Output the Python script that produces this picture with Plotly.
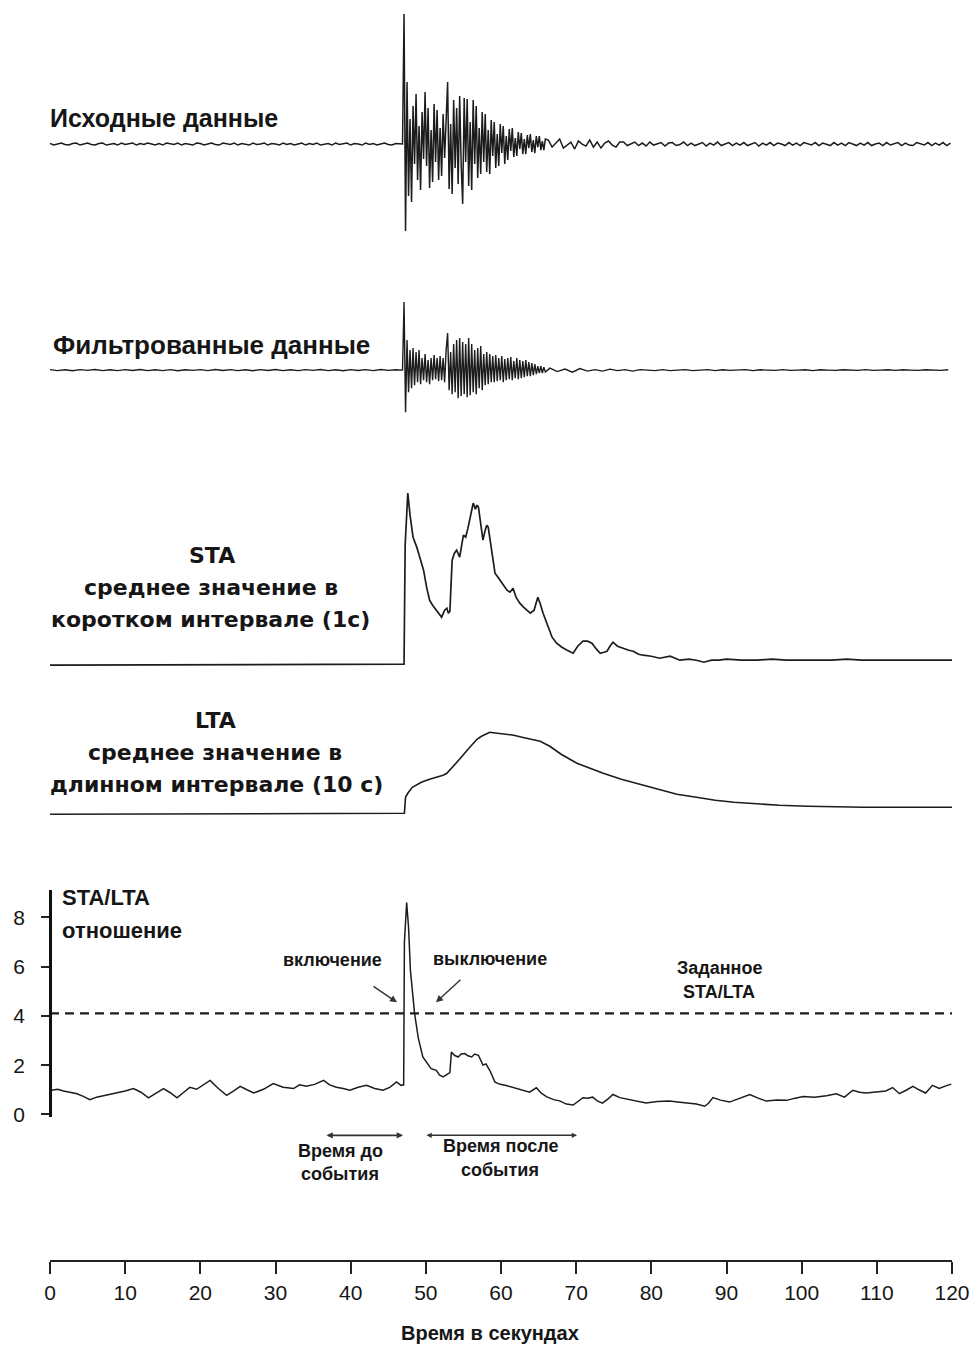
import numpy as np
import plotly.graph_objects as go

# ---------------- data ----------------
# Raw seismogram (amplitude in arbitrary units, 0 = baseline)
raw_pre = [0.5, -1, 0, 1, -0.5, -1, 0.5, 1, -1, 0,
           1, -0.5, -1, 0.5, 1, -1, 0, 0.5, -1, 1,
           -0.5, 0, 1, -1, 0.5, -0.5, 1, 0, -1, 0.5,
           -1, 1, 0, -0.5, 1, -1, 0.5, 0, -1, 1,
           0.5, -1, 0, 1, -0.5, -1, 1, 0, -0.5, 1,
           -1, 0.5, 0, -1, 1, -0.5, 0, 1, -1, 0.5,
           0, -1, 1, -0.5, 0.5, -1, 0, 1, -1, 0.5,
           -0.5, 1, -1, 0, 0.5, -1, 1, -0.5, 0, 1,
           -1, 0.5, 0, -1, 1, -0.5, 0.5, -1, 0, 1,
           -0.5, -1, 0.5, 0]
raw_event = [0, 130, -87, 62, -52,
             25, -58, 38, -20, 50,
             -36, 18, -46, 32, -15,
             52, -22, 36, -44, 14,
             -38, 40, -18, 34, -36,
             16, -32, 30, -14, 24,
             62, -45, 20, -50, 44,
             -24, 36, -40, 48, -20,
             -60, 46, -18, 45, -42,
             22, -46, 44, -20, 38,
             -34, 16, -30, 32, -18,
             30, -28, 14, -30, 24,
             -12, 22, -24, 10, -22,
             20, -9, 18, -20, 8,
             -16, 15, -7, 16, -13,
             6, -12, 12, -5, 11,
             -10, 5, -10, 9, -4,
             10, -8, 4, -9, 8,
             -3, 8, -6, 3, -6,
             5]
raw_tail = [4, -3, 1, 5, -4, -1, 2, -5, 3, 0,
            -2, 4, -3, 2, -4, 1, 3, -1, -3, 2,
            2, -1.5, 0, 2, -1.5, 1, -2, 2, -1, 0,
            1.5, -2, 1, 1.5, -1.5, -0.5, 2, -1.5, 1, -1.5,
            0, 1.5, -2, 1, -1, 2, -1.5, 0, 1.5, -1.5,
            1, -1, 1.5, -1.5, 0, 1.5, -2, 1, -1, 1.5,
            -1.5, 1, 0, -1.5, 1.5, -1, 1, -1.5, 1.5, 0,
            -1, 1.5, -1.5, 1, 0, -1.5, 1.5, -1, 1, -1.5,
            1.5, 0, -1.5, 1, -1, 1.5, -1.5, 0, 1, -1.5,
            1.5, -1, 0, 1.5, -1.5, 1, -1, -1.5, 1.5, 0,
            -1, 1.5, -1.5, 1, -1, 1.5, -1.5, 1]

# Filtered seismogram
filt_pre = [0.5, -0.5, 0.3, -0.6, 0.5, -0.3, 0.6, -0.5, 0.4, -0.5,
            0.5, -0.4, 0.6, -0.5, 0.3, -0.5, 0.5, -0.6, 0.4, -0.3,
            0.5, -0.5, 0.6, -0.4, 0.5, -0.5, 0.3, -0.6, 0.5, -0.4,
            0.6, -0.5, 0.4, -0.5, 0.5, -0.3, 0.6, -0.5, 0.4, -0.6,
            0.5, -0.4, 0.5, -0.5, 0.6, -0.3, 0.4]
filt_event = [0, 68, -42, 30, -22,
              20, -18, 22, -15, 18,
              -12, 20, -14, 12, -10,
              16, -12, 10, -14, 12,
              -10, 15, -9, 12, -11,
              14, -10, 12, -12, 20,
              37, -20, 18, -24, 26,
              -22, 30, -28, 32, -26,
              28, -24, 26, -27, 32,
              -25, 26, -22, 20, -24,
              22, -18, 24, -20, 16,
              -15, 18, -14, 16, -12,
              14, -12, 15, -11, 12,
              -10, 14, -12, 11, -10,
              12, -9, 13, -10, 9,
              -8, 12, -9, 10, -8,
              9, -7, 10, -6, 8,
              -6, 7, -5, 6, -4,
              4, -3, 4, -3, 3,
              -2]
filt_tail = [2, -1.5, 1, -2, 1.5, -1, 0.5, -1, 1, -0.5,
             0.5, -1, 0.5, 0, -0.5, 0.5, -0.5, 0, 0.5, -0.5,
             0, 0.5, -0.5, 0.3, -0.3, 0, 0.5, -0.5, 0.3, 0,
             -0.3, 0.5, -0.3, 0, 0.3, -0.5, 0.3, 0, -0.3, 0.3,
             0, -0.3, 0.5, -0.3, 0, 0.3, -0.3, 0.3, 0, -0.3,
             0.3, 0, -0.3, 0.3]

# STA (short-term average)
sta_t = [0, 10, 20, 30, 40, 47.1, 47.25, 47.6, 47.9, 48.3,
         48.8, 49.2, 49.7, 50.1, 50.5, 50.9, 51.3, 51.7, 52.1, 52.5,
         52.8, 53.0, 53.2, 53.5, 53.8, 54.1, 54.5, 55.0, 55.3, 55.6,
         56.0, 56.3, 56.6, 56.8, 57.0, 57.3, 57.6, 57.9, 58.1, 58.3,
         58.7, 59.2, 59.6, 59.9, 60.3, 60.8, 61.2, 61.6, 62.0, 62.5,
         63.0, 63.5, 63.9, 64.4, 64.9, 65.2, 65.6, 66.2, 66.8, 67.4,
         68.1, 68.8, 69.6, 70.2, 70.9, 71.5, 72.1, 72.7, 73.2, 73.7,
         74.1, 74.5, 74.9, 75.5, 76.2, 77.0, 77.6, 78.3, 78.9, 80.0,
         81.1, 82.5, 83.8, 85, 86, 87, 88, 89, 90, 92,
         94, 96, 98, 100, 102, 104, 106, 108, 110, 112,
         114, 116, 118, 120]
sta_v = [0, 0.3, 0.5, 0.6, 0.8, 1, 120, 172, 150, 128,
         118, 108, 95, 78, 65, 60, 56, 52, 48, 55,
         57, 52, 54, 105, 112, 115, 108, 130, 128, 137,
         150, 162, 156, 160, 158, 140, 125, 135, 140, 138,
         118, 92, 88, 85, 80, 75, 73, 77, 68, 62,
         58, 55, 52, 55, 68, 62, 52, 40, 28, 22,
         18, 15, 12, 19, 24, 24, 22, 16, 12, 13,
         14, 19, 23, 19, 17, 15, 14, 11, 10, 9,
         7, 9, 5, 6, 5, 3, 5, 5, 6, 5,
         5, 6, 5, 5, 5, 5, 6, 5, 5, 5,
         5, 5, 5, 5]

# LTA (long-term average)
lta_t = [0, 20, 40, 47.15, 47.3, 47.6, 48.2, 49.4, 50.5, 51.5,
         52.3, 52.8, 53.7, 54.6, 55.5, 56.3, 56.8, 57.4, 58.5, 59.5,
         60.5, 61.7, 62.8, 64.0, 65.2, 66.5, 68.0, 70.1, 71.8, 73.6,
         76.0, 78.5, 81.0, 83.4, 86.0, 88.5, 91.0, 93.4, 97.0, 100.8,
         104.5, 108.2, 114.0, 120.0]
lta_v = [0, 0.3, 0.6, 1, 17, 21, 27, 32, 35, 37,
         39, 41, 48, 56, 64, 71, 75, 78, 82, 81,
         80, 79, 77, 75, 73, 68, 60, 51, 46, 41,
         35, 30, 25, 20, 17, 14, 12, 10.5, 9, 8,
         7.5, 7, 7, 7]

# STA/LTA ratio
ratio_t = [0.2, 1.0, 1.8, 2.7, 3.6, 4.5, 5.3, 6.2, 7.1, 8.0,
           8.9, 10.0, 11.1, 12.1, 13.1, 14.1, 15.1, 16.0, 16.9, 17.8,
           18.6, 19.5, 20.4, 21.3, 22.4, 23.5, 24.4, 25.3, 26.2, 27.1,
           28.4, 29.7, 31.0, 32.4, 33.2, 34.1, 35.2, 36.4, 37.2, 38.1,
           39.0, 39.9, 41.0, 42.1, 43.2, 44.3, 45.2, 46.1, 46.7, 47.05,
           47.15, 47.45, 47.7, 47.95, 48.5, 49.0, 49.6, 50.1, 50.7, 51.4,
           51.8, 52.3, 52.9, 53.2, 53.4, 53.8, 54.3, 54.7, 55.2, 55.6,
           56.1, 56.5, 57.0, 57.6, 58.0, 58.5, 59.2, 59.9, 60.7, 61.5,
           62.5, 63.2, 63.8, 64.7, 65.4, 66.1, 67.0, 67.8, 68.7, 69.6,
           70.3, 70.9, 71.5, 72.2, 72.8, 73.5, 74.2, 74.9, 75.8, 77.1,
           78.2, 79.3, 80.8, 82.4, 83.5, 84.6, 86.0, 87.1, 87.6, 88.2,
           89.2, 90.4, 91.8, 93.1, 94.2, 95.3, 96.7, 98.0, 99.0, 100.2,
           101.7, 103.3, 104.6, 105.7, 106.8, 107.7, 108.6, 109.9, 111.2, 112.1,
           113.0, 113.9, 114.8, 115.6, 116.5, 117.4, 118.3, 119.1, 119.9]
ratio_v = [0.98, 1.02, 0.95, 0.9, 0.84, 0.72, 0.6, 0.7, 0.76, 0.82,
           0.87, 0.95, 1.05, 0.9, 0.67, 0.85, 1.05, 0.88, 0.67, 0.9,
           1.1, 1.02, 1.2, 1.38, 1.05, 0.77, 0.95, 1.14, 1.0, 0.87,
           1.02, 1.25, 1.1, 1.05, 1.2, 1.14, 1.22, 1.38, 1.2, 1.1,
           1.05, 0.98, 1.1, 1.18, 1.05, 0.98, 1.1, 1.32, 1.18, 1.2,
           7.0, 8.6, 7.6, 5.85, 4.1, 3.1, 2.33, 2.1, 1.86, 1.79,
           1.6, 1.52, 1.65, 1.7, 2.53, 2.4, 2.33, 2.45, 2.47, 2.38,
           2.33, 2.45, 2.4, 2.0, 2.05, 1.79, 1.31, 1.22, 1.17, 1.1,
           1.04, 0.98, 0.9, 1.08, 0.85, 0.71, 0.6, 0.55, 0.42, 0.38,
           0.55, 0.68, 0.66, 0.7, 0.55, 0.46, 0.62, 0.81, 0.68, 0.6,
           0.55, 0.46, 0.52, 0.54, 0.5, 0.46, 0.42, 0.33, 0.45, 0.68,
           0.58, 0.5, 0.65, 0.81, 0.66, 0.54, 0.58, 0.57, 0.65, 0.73,
           0.7, 0.76, 0.84, 0.7, 0.98, 0.9, 0.87, 0.92, 0.95, 1.09,
           0.84, 0.98, 1.14, 1.0, 0.87, 1.18, 1.05, 1.15, 1.23]

threshold = 4.1
time_ticks = list(range(0, 121, 10))
ratio_ticks = [0, 2, 4, 6, 8]

assert len(sta_t) == len(sta_v)
assert len(lta_t) == len(lta_v)
assert len(ratio_t) == len(ratio_v)

# sample times of the evenly sampled traces
raw_t = np.concatenate([np.arange(len(raw_pre)) * 0.5,
                        46.9 + np.arange(len(raw_event)) * 0.2,
                        66.3 + np.arange(len(raw_tail)) * 0.5])
raw_v = raw_pre + raw_event + raw_tail
filt_t = np.concatenate([np.arange(len(filt_pre)) * 1.0,
                         46.9 + np.arange(len(filt_event)) * 0.2,
                         66.5 + np.arange(len(filt_tail)) * 1.0])
filt_v = filt_pre + filt_event + filt_tail

# ---------------- layout helpers ----------------
W, H = 977, 1347
PLOT_L, PLOT_R = 50, 952  # page x of t=0 and t=120
ML = PLOT_L
MR = W - PLOT_R
VK = 1.0063               # small vertical correction measured on the rendered page


def PX(x):
    return (x - PLOT_L) / (PLOT_R - PLOT_L)


def PY(y):
    return 1 - (y * VK) / H


INK = '#161616'

fig = go.Figure()
fig.add_trace(go.Scatter(x=raw_t, y=raw_v, mode='lines', line=dict(color='#1c1c1c', width=1.5),
                         xaxis='x', yaxis='y', showlegend=False, hoverinfo='skip'))
fig.add_trace(go.Scatter(x=filt_t, y=filt_v, mode='lines', line=dict(color='#1c1c1c', width=1.4),
                         xaxis='x', yaxis='y2', showlegend=False, hoverinfo='skip'))
fig.add_trace(go.Scatter(x=sta_t, y=sta_v, mode='lines', line=dict(color='#1c1c1c', width=1.7),
                         xaxis='x', yaxis='y3', showlegend=False, hoverinfo='skip'))
fig.add_trace(go.Scatter(x=lta_t, y=lta_v, mode='lines', line=dict(color='#1c1c1c', width=1.6),
                         xaxis='x', yaxis='y4', showlegend=False, hoverinfo='skip'))
fig.add_trace(go.Scatter(x=ratio_t, y=ratio_v, mode='lines', line=dict(color='#1c1c1c', width=1.5),
                         xaxis='x', yaxis='y5', showlegend=False, hoverinfo='skip'))
fig.add_trace(go.Scatter(x=[time_ticks[0], time_ticks[-1]], y=[threshold, threshold], mode='lines',
                         line=dict(color='#1c1c1c', width=2.2, dash='9px,6px'),
                         xaxis='x', yaxis='y5', showlegend=False, hoverinfo='skip'))

SANS = 'Liberation Sans, Arial, sans-serif'
WIDE = 'DejaVu Sans, Verdana, sans-serif'
ann = []


def txt(s, x, y, size, family=SANS, xanchor='center'):
    ann.append(dict(text=s, x=PX(x), y=PY(y), xref='paper', yref='paper', showarrow=False,
                    xanchor=xanchor, yanchor='middle',
                    font=dict(family=family, size=size, color=INK)))


txt('<b>Исходные данные</b>', 48, 118, 25, xanchor='left')
txt('<b>Фильтрованные данные</b>', 51, 345, 26, xanchor='left')
txt('<b>STA</b>', 212, 555, 22, WIDE)
txt('<b>среднее значение в</b>', 211, 587, 22, WIDE)
txt('<b>коротком интервале (1с)</b>', 210, 619, 22, WIDE)
txt('<b>LTA</b>', 215, 720, 22, WIDE)
txt('<b>среднее значение в</b>', 215, 752, 22, WIDE)
txt('<b>длинном интервале (10 с)</b>', 216, 784, 22, WIDE)
txt('<b>STA/LTA</b>', 60, 897, 22, xanchor='left')
txt('<b>отношение</b>', 60, 930, 22, xanchor='left')
txt('<b>включение</b>', 332, 960, 18)
txt('<b>выключение</b>', 490, 959, 18)
txt('<b>Заданное</b>', 719, 968, 18)
txt('<b>STA/LTA</b>', 719, 992, 18)
txt('<b>Время до</b>', 340, 1151, 18)
txt('<b>события</b>', 340, 1174, 18)
txt('<b>Время после</b>', 500, 1146, 18)
txt('<b>события</b>', 500, 1170, 18)
txt('<b>Время в секундах</b>', 490, 1333, 20)


def arrow(x_head, y_head, dx, dy, both=False, width=1.4, size=1.0):
    ann.append(dict(text='', x=PX(x_head), y=PY(y_head), xref='paper', yref='paper',
                    showarrow=True, ax=dx, ay=dy, axref='pixel', ayref='pixel',
                    arrowhead=2, arrowsize=size, arrowwidth=width, arrowcolor='#333',
                    arrowside='end+start' if both else 'end', standoff=0, startstandoff=0))


arrow(397, 1002, -25, -17)
arrow(436, 1002, 26, -24)
arrow(403, 1135, -78, 0, both=True, width=1.8, size=0.7)
arrow(577, 1135, -152, 0, both=True, width=1.5, size=0.7)

TICKFONT = dict(family=SANS, size=21, color=INK)

fig.update_layout(
    width=W, height=H,
    margin=dict(l=ML, r=MR, t=0, b=0),
    paper_bgcolor='white', plot_bgcolor='white',
    showlegend=False,
    annotations=ann,
    xaxis=dict(domain=[0, 1], range=[0, 120], anchor='free', position=PY(1261),
               showline=True, linecolor='#222', linewidth=2,
               ticks='outside', ticklen=12, tickwidth=1.6, tickcolor='#222',
               tickvals=time_ticks, tickfont=TICKFONT,
               showgrid=False, zeroline=False),
    yaxis=dict(domain=[PY(240), PY(10)], range=[-96, 134], visible=False),
    yaxis2=dict(domain=[PY(420), PY(295)], range=[-50, 75], visible=False),
    yaxis3=dict(domain=[PY(670), PY(480)], range=[-5, 185], visible=False),
    yaxis4=dict(domain=[PY(820), PY(720)], range=[-6, 94], visible=False),
    yaxis5=dict(domain=[PY(1117), PY(890)], range=[-0.12, 9.1], anchor='free', position=0,
                showline=True, linecolor='#111', linewidth=2.5,
                ticks='outside', ticklen=8, tickwidth=1.6, tickcolor='#222',
                tickvals=ratio_ticks, tickfont=TICKFONT, ticklabelstandoff=12,
                showgrid=False, zeroline=False),
)

# remove the browser's default 8px body margin so the figure fills the window exactly
fig.write_html('out.html', config={'displayModeBar': False},
               post_script="document.body.style.margin='0';document.body.style.overflow='hidden';")
